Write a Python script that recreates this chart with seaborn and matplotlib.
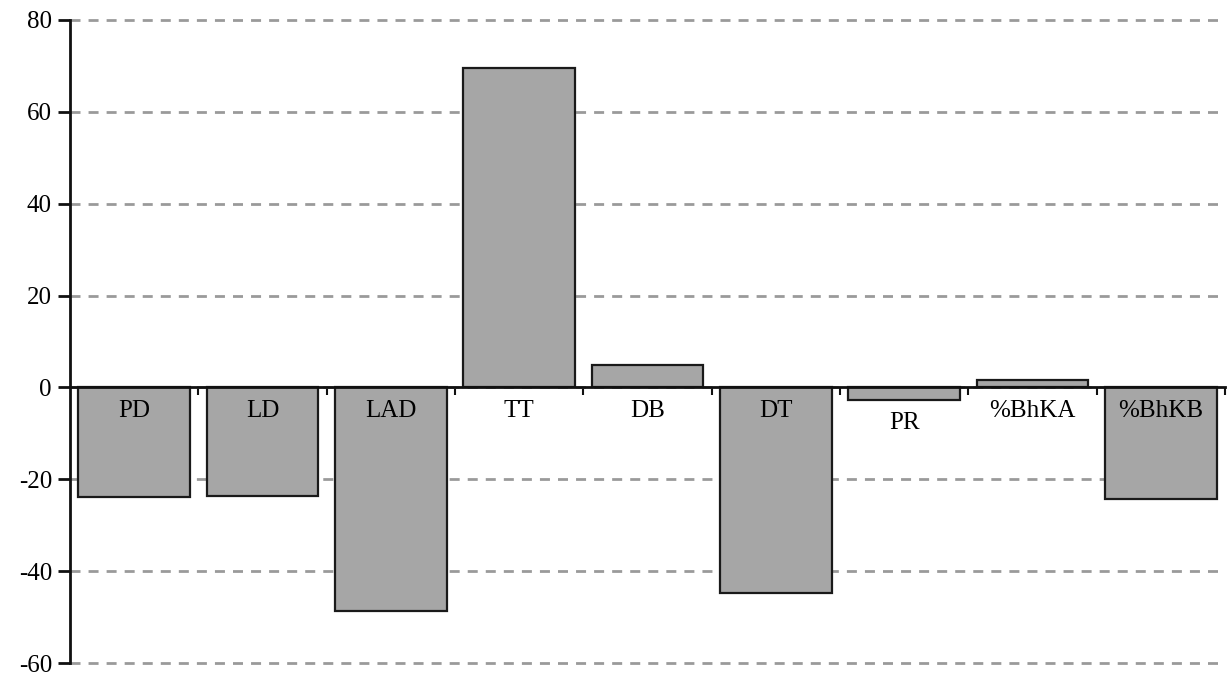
import matplotlib
matplotlib.use("Agg")
import matplotlib.pyplot as plt
import seaborn as sns

categories = ["PD", "LD", "LAD", "TT", "DB", "DT", "PR", "%BhKA", "%BhKB"]
values = [-23.8, -23.6, -48.6, 69.5, 4.8, -44.8, -2.7, 1.6, -24.4]
y_ticks = [-60, -40, -20, 0, 20, 40, 60, 80]


def main():
    sns.set_style("white")
    plt.rcParams["font.family"] = ["Liberation Serif", "DejaVu Serif"]
    plt.rcParams["axes.unicode_minus"] = False
    plt.rcParams["text.color"] = "black"
    plt.rcParams["ytick.labelcolor"] = "black"

    fig = plt.figure(figsize=(12.29, 6.75), dpi=100)
    ax = fig.add_axes([70 / 1229, 12 / 675, 1155 / 1229, 643 / 675])

    sns.barplot(
        x=categories,
        y=values,
        color="#a6a6a6",
        saturation=1,
        edgecolor="#1a1a1a",
        linewidth=1.6,
        width=0.87,
        ax=ax,
        zorder=2,
    )

    ax.set_xlim(-0.5, len(categories) - 0.5)
    ax.set_ylim(-60, 80)
    ax.set_yticks(y_ticks)
    ax.set_yticklabels([str(t) for t in y_ticks], fontsize=18, color="black")

    # dashed horizontal grid
    ax.set_axisbelow(True)
    ax.yaxis.grid(True, color="#9a9a9a", linewidth=2, linestyle=(0, (3.6, 2.9)))
    ax.xaxis.grid(False)
    for line in ax.get_ygridlines():
        line.set_clip_on(False)

    # spines: left axis plus x axis through zero
    for side in ["top", "right"]:
        ax.spines[side].set_visible(False)
    ax.spines["left"].set_linewidth(2)
    ax.spines["left"].set_color("#111111")
    ax.spines["bottom"].set_position(("data", 0))
    ax.spines["bottom"].set_linewidth(2)
    ax.spines["bottom"].set_color("#111111")
    ax.spines["bottom"].set_zorder(3)

    ax.tick_params(axis="y", direction="out", length=9, width=2, color="#111111", pad=4, left=True)
    ax.set_xticks([i + 0.5 for i in range(len(categories))])
    ax.set_xticklabels([])
    ax.tick_params(axis="x", direction="out", length=6, width=1.5, color="#111111", bottom=True)
    ax.set_xlabel("")
    ax.set_ylabel("")

    # category labels just below the zero line
    for i, name in enumerate(categories):
        drop = -36 if name == "PR" else -24
        ax.annotate(
            name,
            xy=(i, 0),
            xytext=(0, drop),
            textcoords="offset pixels",
            ha="center",
            va="center",
            fontsize=18,
            color="black",
            zorder=4,
        )

    fig.savefig("out.png", dpi=100)
    plt.close(fig)


if __name__ == "__main__":
    main()
